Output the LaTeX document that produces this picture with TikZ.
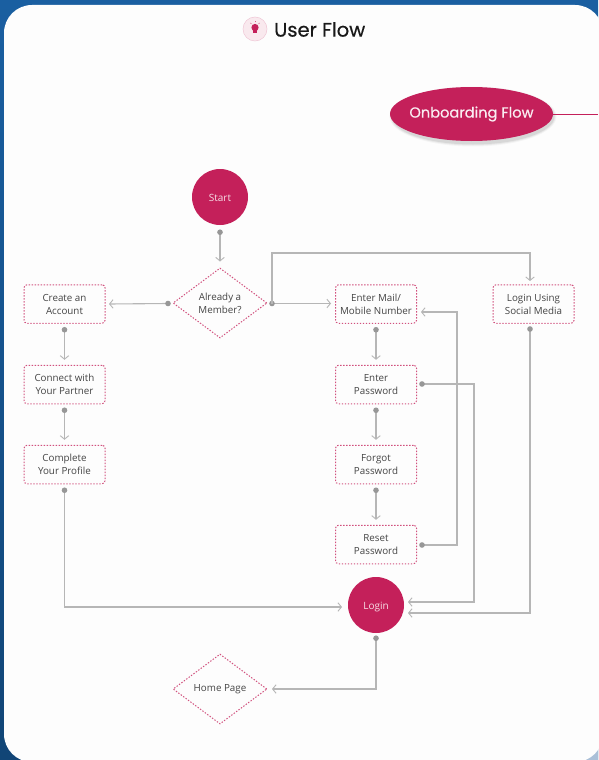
\documentclass[tikz,border=0pt]{standalone}
\usepackage{fontspec}
\setmainfont{Open Sans}
\newfontfamily\headfont[FakeBold=0.5]{Poppins}
\usetikzlibrary{arrows.meta,shapes.geometric,calc}
\definecolor{crim}{HTML}{C4205A}
\definecolor{linegrey}{HTML}{B6B6B6}
\definecolor{dotgrey}{HTML}{979797}
\definecolor{labelgrey}{HTML}{444444}
\definecolor{bgtop}{HTML}{1A5FA1}
\definecolor{bgbot}{HTML}{114576}
\definecolor{bglight}{HTML}{AAC0D8}
\definecolor{panel}{HTML}{FDFDFD}
\tikzset{
  x=1pt,y=-1pt,
  dots/.style={draw=crim!78,line width=1pt,dash pattern=on 1.4pt off 1.6pt},
  stepbox/.style={dots,rectangle,rounded corners=3pt,minimum width=81pt,minimum height=38.5pt,inner sep=0pt,align=center,font=\fontsize{9.8}{13}\selectfont,text=labelgrey},
  choice/.style={dots,diamond,aspect=1.343,minimum width=94pt,minimum height=70pt,inner sep=0pt,align=center,font=\fontsize{9.8}{13}\selectfont,text=labelgrey},
  disc/.style={circle,fill=crim,minimum size=56pt,inner sep=0pt,font=\fontsize{10}{13}\selectfont,text=white!85!crim,text height=9.5pt,text depth=0pt},
  plainflow/.style={draw=linegrey,line width=1.1pt,
    -{Straight Barb[length=3.5pt,width=8.5pt,line width=.9pt,color=linegrey]}},
  flow/.style={draw=linegrey,line width=1.1pt,
    {Circle[length=5.5pt,width=5.5pt,sep=-2.75pt,color=dotgrey]}-{Straight Barb[length=3.5pt,width=8.5pt,line width=.9pt,color=linegrey]}},
}
\begin{document}
\begin{tikzpicture}
\useasboundingbox (0,0) rectangle (598,760);
\shade[top color=bgtop,bottom color=bgbot] (0,0) rectangle (598,760);
\fill[bglight] (570,730) rectangle (598,760);
\fill[panel,rounded corners=28pt] (4,5) rectangle (603,762);

% title and icon
\fill[crim!10] (255,29) circle (12);
\draw[crim!25,line width=.5pt] (255,29) circle (12);
\fill[crim] (255,27.5) circle (3.6);
\fill[crim] (253.4,30) rectangle (256.6,33.5);
\foreach \a in {-135,-90,-45}{\draw[crim!70,line width=.5pt] ($(255,27.5)+(\a:5)$) -- ($(255,27.5)+(\a:6.5)$);}
\node[anchor=west,inner sep=0pt,font=\headfont\fontsize{19.5}{22}\selectfont,text=black!90] (title) at (274,29.5) {User Flow};

% onboarding
\foreach \o/\g in {.03/3.5,.05/2.5,.07/1.5}{\fill[black,opacity=\o] (473,116.5) ellipse ({80+\g} and {26.5+\g});}
\node[ellipse,fill=crim,minimum width=163pt,minimum height=54pt,inner xsep=-12pt,inner ysep=0pt,text=white!92!crim,font=\headfont\fontsize{14.6}{16}\selectfont] (onb) at (471.5,114) {Onboarding Flow};
\coordinate (offright) at (598,114);
\draw[crim,line width=1pt] (onb.east) -- (offright);

% nodes
\node[disc] (start) at (220,197) {Start};
\node[choice] (member) at (220,303) {Already a\\Member?};
\node[stepbox] (create) at (64.5,304) {Create an\\Account};
\node[stepbox] (connect) at (64.5,384.5) {Connect with\\Your Partner};
\node[stepbox] (profile) at (64.5,464.5) {Complete\\Your Profile};
\node[stepbox] (mail) at (376,304) {Enter Mail/\\Mobile Number};
\node[stepbox] (pass) at (376,384.5) {Enter\\Password};
\node[stepbox] (forgot) at (376,464.5) {Forgot\\Password};
\node[stepbox] (reset) at (376,544.5) {Reset\\Password};
\node[stepbox] (social) at (533.5,304) {Login Using\\Social Media};
\node[disc] (login) at (376,605) {Login};
\node[choice] (home) at (220,689) {Home Page};

% waypoints
\coordinate (branch) at (272,303.5);
\coordinate (branchtop) at (272,253);
\coordinate (socialtop) at (530,253);
\coordinate (socialin) at (530,281);
\coordinate (socialout) at (530,329);
\coordinate (socialcorner) at (530,613);
\coordinate (loginb) at (408,613);
\coordinate (logina) at (408,602);
\coordinate (loginl) at (342,607);
\coordinate (passout) at (422,384);
\coordinate (passrun) at (474,384);
\coordinate (resetout) at (422,545);
\coordinate (resetrun) at (457,545);
\coordinate (mailin) at (421,312);
\coordinate (homein) at (272,689);
\coordinate (mailleft) at (331,303.5);
\coordinate (memberleft) at (168,303.5);
\coordinate (createin) at (109,304);

% connectors
\draw[flow,shorten <=7pt,shorten >=6pt] (start.south) -- (member.north);
\draw[flow] (memberleft) -- (createin);
\draw[flow] (branch) -- (mailleft);
\draw[plainflow] (branch) -- (branchtop) -- (socialtop) -- (socialin);
\draw[flow,shorten <=6pt,shorten >=5pt] (create.south) -- (connect.north);
\draw[flow,shorten <=6pt,shorten >=5pt] (connect.south) -- (profile.north);
\draw[flow,shorten <=6pt,shorten >=5pt] (mail.south) -- (pass.north);
\draw[flow,shorten <=6pt,shorten >=5pt] (pass.south) -- (forgot.north);
\draw[flow,shorten <=6pt,shorten >=5pt] (forgot.south) -- (reset.north);
\draw[flow,shorten <=6pt] (profile.south) |- (loginl);
\draw[flow] (socialout) -- (socialcorner) -- (loginb);
\draw[flow] (passout) -- (passrun) |- (logina);
\draw[flow] (resetout) -- (resetrun) |- (mailin);
\draw[flow,shorten <=5pt] (login.south) |- (homein);
\end{tikzpicture}
\end{document}
